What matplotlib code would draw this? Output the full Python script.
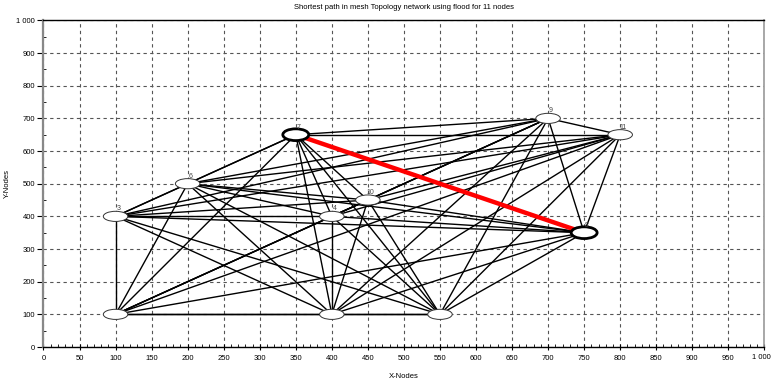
import numpy as np
import matplotlib
matplotlib.use('Agg')
from matplotlib import pyplot as plt
from matplotlib.patches import Ellipse
from matplotlib.ticker import MultipleLocator, FuncFormatter

# node positions (1..11)
node_ids = [1, 2, 3, 4, 5, 6, 7, 8, 9, 10, 11]
node_x = [100, 400, 100, 400, 550, 200, 350, 750, 700, 450, 800]
node_y = [100, 100, 400, 400, 100, 500, 650, 350, 700, 450, 650]
shown_labels = [3, 4, 6, 7, 8, 9, 10, 11]
path = [7, 8]  # shortest path (source, destination)

plt.rcParams['font.family'] = ['Liberation Sans', 'DejaVu Sans']

fig = plt.figure(figsize=(7.71, 3.82), dpi=100)
ax = fig.add_axes([0.0564, 0.0916, 0.935, 0.855])

# full mesh
n = len(node_ids)
for i in range(n):
    for j in range(i + 1, n):
        ax.plot([node_x[i], node_x[j]], [node_y[i], node_y[j]],
                color='black', lw=1.0, zorder=2)

# shortest path
a = node_ids.index(path[0])
b = node_ids.index(path[1])
ax.plot([node_x[a], node_x[b]], [node_y[a], node_y[b]],
        color='red', lw=3.2, zorder=3, solid_capstyle='butt')

for k in range(n):
    if node_ids[k] in path:
        e = Ellipse((node_x[k], node_y[k]), 36, 36, facecolor='white',
                    edgecolor='black', lw=2.0, zorder=4)
    else:
        e = Ellipse((node_x[k], node_y[k]), 34, 31, facecolor='white',
                    edgecolor='#333333', lw=0.7, zorder=4)
    ax.add_patch(e)
    if node_ids[k] in shown_labels:
        ax.text(node_x[k] + 4, node_y[k] + 12, str(node_ids[k]), fontsize=5,
                color='#444444', ha='center', va='bottom', zorder=5)

ax.set_xlim(0, 1000)
ax.set_ylim(0, 1000)
ax.xaxis.set_major_locator(MultipleLocator(50))
ax.xaxis.set_minor_locator(MultipleLocator(10))
ax.yaxis.set_major_locator(MultipleLocator(100))
ax.yaxis.set_minor_locator(MultipleLocator(50))
ax.xaxis.set_major_formatter(FuncFormatter(lambda v, p: '' if v == 1000 else '%d' % v))
ax.yaxis.set_major_formatter(FuncFormatter(lambda v, p: '1 000' if v == 1000 else '%d' % v))
# last x label, nudged so it stays inside the picture
ax.annotate('1 000', xy=(1000, 0), xycoords='data', xytext=(6, -6.5),
            textcoords='offset pixels', ha='right', va='top', fontsize=5.5,
            annotation_clip=False)

ax.grid(True, which='major', color='#555555', ls=(0, (3, 3)), lw=0.8, zorder=1)
ax.set_axisbelow(True)

ax.tick_params(axis='x', which='major', direction='inout', length=5, width=0.8,
               labelsize=5.5, pad=3)
ax.tick_params(axis='x', which='minor', direction='in', length=2.5, width=0.6)
ax.tick_params(axis='y', which='major', direction='out', length=4, width=0.8,
               labelsize=5.5, pad=2)
ax.tick_params(axis='y', which='minor', direction='in', length=2.5, width=0.6)

ax.spines['left'].set_color('#888888')
ax.spines['left'].set_linewidth(1.6)
ax.spines['right'].set_color('#999999')
ax.spines['right'].set_linewidth(1.2)
ax.spines['top'].set_linewidth(1.0)
ax.spines['bottom'].set_linewidth(1.0)

ax.set_title('Shortest path in mesh Topology network using flood for 11 nodes',
             fontsize=5.5, pad=8)
ax.set_xlabel('X-Nodes', fontsize=5.5)
ax.set_ylabel('Y-Nodes', fontsize=5.5)
ax.xaxis.set_label_coords(0.5, -0.08)
ax.yaxis.set_label_coords(-0.045, 0.5)

fig.savefig('out.png', dpi=100)
